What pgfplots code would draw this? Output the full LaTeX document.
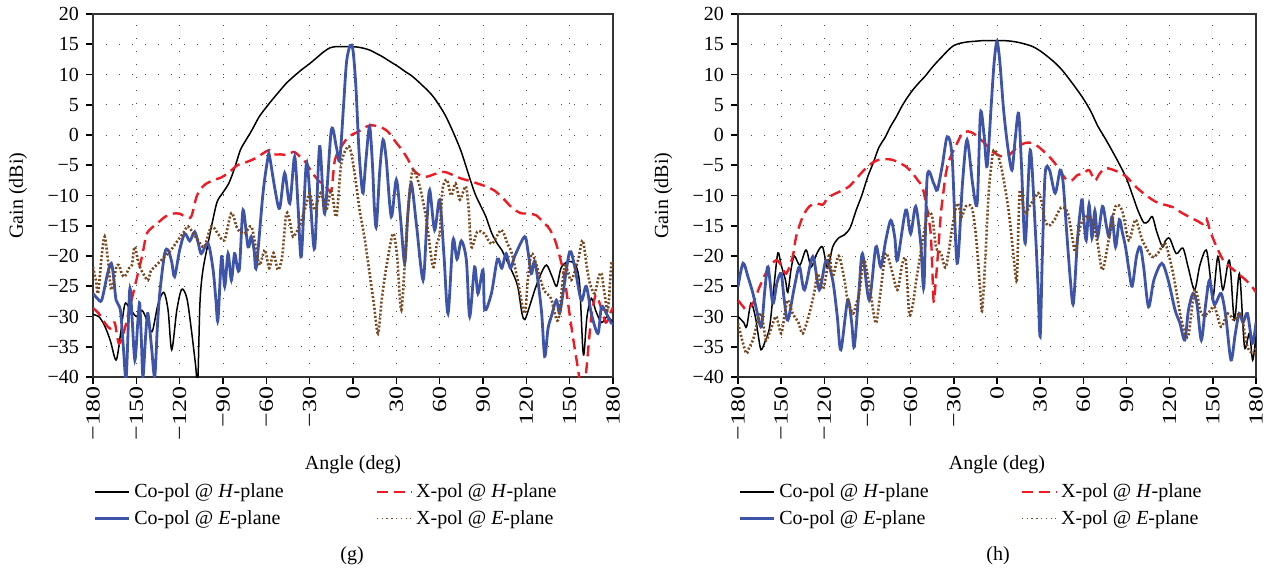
\documentclass[border=0pt]{standalone}
\usepackage{fontspec}
\setmainfont{Liberation Serif}
\usepackage{graphicx}
\usepackage{pgfplots}
\pgfplotsset{compat=1.18}

\definecolor{cblue}{RGB}{62,84,168}
\definecolor{cred}{RGB}{237,28,36}
\definecolor{cbrown}{RGB}{120,72,30}

\newcommand{\xl}[1]{\scalebox{1.3}[1]{#1}}

\pgfplotsset{
  panel/.style={
    scale only axis, height=181.5pt, anchor=south west,
    xmin=-180, xmax=180, ymin=-40, ymax=20,
    xtick={-180,-150,...,180},
    xticklabels={\xl{−180},\xl{−150},\xl{−120},\xl{−90},\xl{−60},\xl{−30},\xl{0},\xl{30},\xl{60},\xl{90},\xl{120},\xl{150},\xl{180}},
    ytick={-40,-35,...,20},
    yticklabels={−40,−35,−30,−25,−20,−15,−10,−5,0,5,10,15,20},
    xtick pos=left, ytick pos=left,
    tick align=outside, major tick length=3.5pt,
    every tick/.style={black, line width=0.8pt},
    grid=major,
    major grid style={black!70, line width=0.5pt, dash pattern=on 0.5pt off 6pt},
    axis line style={black!80, line width=0.6pt},
    tick label style={font=\fontsize{10}{12}\selectfont},
    xticklabel style={rotate=90, anchor=east, inner xsep=1pt, inner ysep=0pt},
    xlabel={Angle (deg)}, ylabel={Gain (dBi)},
    label style={font=\fontsize{10}{12}\selectfont},
    xlabel style={at={(axis description cs:0.5,-0.2424)}, anchor=center},
    ylabel style={at={(axis description cs:-0.144,0.5)}, anchor=center},
    legend columns=2, legend cell align=left,
    legend style={draw=none, fill=none, at={(axis description cs:0,-0.27)}, anchor=north west,
      xshift=-3pt, font=\fontsize{10}{12}\selectfont, row sep=1pt,
      /tikz/every even column/.append style={column sep=44pt}},
    every axis plot/.append style={smooth, tension=0.5},
  },
  cph/.style={black, line width=0.75pt},
  xph/.style={cred, line width=1.2pt, dash pattern=on 5.5pt off 3pt},
  cpe/.style={cblue, line width=1.4pt},
  xpe/.style={cbrown, line width=1.3pt, dash pattern=on 1pt off 1pt,
    legend image post style={line width=0.6pt, dash pattern=on 0.6pt off 1.8pt}},
}

\begin{document}
\begin{tikzpicture}
\useasboundingbox (0,0) rectangle (634pt,-288pt);

% ---------------- (g) ----------------
\begin{axis}[panel, width=260pt, at={(46.5pt,-188.5pt)}]
\addplot[cph] coordinates {
(-180,-29.7)(-176,-30)(-172,-31.5)(-168,-34)(-164,-37.2)(-161,-33)(-158,-28)(-155,-28.5)(-150,-30)
(-146,-29)(-142,-31)(-139,-32.5)(-135,-28)(-131,-26)(-128,-29)(-125.5,-35.5)(-122,-29)(-118.6,-25.5)
(-115,-27)(-112,-32)(-109,-38)(-107.5,-41)(-106,-28)(-104,-22.5)(-100,-17.5)(-97,-14)(-94,-11)
(-90,-9.5)(-86,-8)(-82,-5.5)(-78,-2.5)(-74,-0.8)(-70,0.8)(-65,3)(-60,4.6)(-56,5.8)(-50,7.5)(-46,8.6)
(-40,9.9)(-35,10.9)(-30,11.8)(-25,12.8)(-20,13.8)(-16,14.4)(-12,14.6)(-6,14.6)(0,14.6)(4,14.5)
(8,14.3)(12,14)(16,13.5)(20,13)(24,12.4)(28,11.8)(32,11.2)(36,10.5)(40,9.9)(44,9.1)(48,8.2)(52,7.3)
(56,6.2)(60,4.8)(64,3.2)(68,1.2)(72,-1)(75,-2.8)(78,-5)(82,-8)(85,-10)(89,-12)(92,-13.5)(96,-16.2)
(100,-18)(103,-19)(106,-20.5)(110,-22.5)(114,-25)(117,-29.5)(119,-30.5)(122,-28.5)(126,-25.5)
(130,-23)(134,-21.5)(138,-23.5)(141,-25)(144,-22)(148,-21)(152,-21)(155,-22)(157,-25)(159,-35)
(160,-36)(162,-30)(165,-27)(168,-29)(172,-31)(176,-30)(180,-31)};
\addlegendentry{Co-pol @ \textit{H}-plane}
\addplot[xph] coordinates {
(-180,-28.6)(-176,-29.5)(-172,-31)(-168,-32)(-165,-31)(-162,-34.5)(-158,-32)(-155,-29)(-152,-26)
(-149,-23)(-146,-20)(-143,-16.5)(-140,-15.5)(-135,-14.5)(-130,-13.5)(-125,-13)(-120,-13)(-116,-13.5)
(-112,-13.5)(-108,-10)(-103,-8.3)(-97,-7.5)(-91,-7)(-85,-6)(-80,-5)(-74,-4.5)(-68,-3.9)(-62,-3)
(-58,-2.5)(-55,-3.2)(-50,-3.2)(-46,-3.3)(-41,-2.8)(-37,-3.5)(-34,-4.1)(-28,-6.3)(-24,-7.5)(-19,-8.5)
(-15,-9.1)(-12.5,-4.1)(-8,-1.9)(-3,-0.3)(4,0.6)(8,1.2)(12,1.6)(18,1.4)(24,0.6)(30,-1.3)(34,-2.5)
(38,-4)(42,-5.8)(46,-6.6)(51,-6.9)(56,-6.5)(63,-6.1)(69,-6.6)(75,-7.2)(81,-7.6)(86,-8)(92,-8.5)
(98,-9.2)(104,-10.5)(110,-12)(116,-12.9)(122,-13)(127,-13.3)(132,-14.5)(136,-15.5)(140,-17.5)
(143,-20)(146,-23)(149,-28)(152,-33)(155,-37.5)(157,-40.5)(159,-42)(161,-40)(163,-35)(165,-30)
(168,-26.5)(171,-28)(175,-31)(178,-29.5)(180,-28.5)};
\addlegendentry{X-pol @ \textit{H}-plane}
\addplot[cpe] coordinates {
(-180,-26.2)(-177,-27)(-174,-27.3)(-170,-23)(-167.3,-21.2)(-165.5,-24)(-164,-27.3)(-161,-29)(-159,-35)
(-157,-40)(-154.6,-25.6)(-153,-30)(-151,-37.2)(-149,-31)(-147.7,-27.8)(-146.5,-34)(-145.4,-40)
(-143.5,-33)(-142,-29.5)(-139.5,-35)(-137.3,-40)(-135.5,-32)(-133.8,-26.2)(-130.4,-19.6)(-128,-19)
(-125.5,-21)(-123.5,-23.4)(-120,-19)(-116.5,-16.3)(-113,-17.5)(-109.6,-16)(-107,-18)(-105,-19.6)
(-100.4,-17.9)(-97,-22)(-95,-27)(-93.5,-30.6)(-91,-20.1)(-88.8,-25)(-86.5,-19.6)(-84.2,-24)(-82,-19.6)
(-80,-22)(-78.5,-21.8)(-76.1,-12.4)(-72.7,-18.5)(-70.5,-16.8)(-68.5,-19)(-66.9,-21.8)(-62.3,-9.6)
(-58.8,-3.6)(-57.7,-3.6)(-54,-9)(-50.8,-12.1)(-47.3,-6.3)(-43.8,-11.3)(-40.4,-3.6)(-38,-12)(-35.8,-20.1)
(-32.3,-4.7)(-29.5,-11)(-26.5,-18.7)(-23.1,-1.9)(-19.6,-13)(-15,0.8)(-11.5,-2)(-9.2,-4.1)(-6.5,5)
(-4.5,12)(-2,14.8)(0,14)(2,8)(4,-2)(5.5,-7)(7,-9.6)(9,-4)(11.5,1.4)(13.5,-5)(14.8,-12)(16.2,-15.1)
(18.5,-6)(20.8,-0.8)(23,-4)(26.5,-13.5)(30,-7.4)(33,-14)(35.8,-21.2)(38,-13)(40.4,-8)(44,-15)
(48.5,-24)(51,-15)(53.1,-9.1)(56.5,-15.7)(60,-10.7)(63,-20)(65.8,-29.5)(69.2,-17.4)(72,-20.5)
(75,-17.5)(78.5,-20.7)(80.8,-30)(84.2,-21.8)(86.5,-26.2)(90,-22.3)(91.2,-28.9)(95.8,-26.2)(100,-20.5)
(103,-22)(106,-19.6)(109,-22)(112,-20)(118.8,-16.8)(121,-19)(123.5,-22.9)(126,-21)(130.4,-28.9)
(132.7,-36.6)(135,-32)(137.3,-30)(140.8,-27.3)(143,-29.5)(145.5,-26)(150,-19.3)(153.5,-21.8)
(158,-27.3)(161.5,-25)(165,-29.5)(169.6,-32.8)(172,-28.4)(175.4,-29.5)(178.9,-31.1)(180,-31)};
\addlegendentry{Co-pol @ \textit{E}-plane}
\addplot[xpe] coordinates {
(-180,-21.8)(-178,-24)(-176.5,-26.2)(-174,-20)(-171.9,-16.8)(-169.5,-21)(-167.3,-25.6)(-164,-22)
(-162,-21.5)(-160,-23)(-158,-23.4)(-155,-22)(-153,-21.5)(-151.2,-18.5)(-148,-21.5)(-145,-23)(-142,-24)
(-140,-22.5)(-137.3,-21.8)(-134,-21)(-130.4,-20.1)(-126,-19)(-121.2,-17.4)(-117,-16)(-114.2,-15.1)
(-110,-16.5)(-107.3,-17.4)(-103,-18.5)(-98.1,-15.1)(-93.5,-16.3)(-89,-17.4)(-84.2,-12.9)(-80,-15.5)
(-75,-16.3)(-70.4,-15.1)(-67,-19)(-64.6,-21.5)(-61,-19)(-58,-22)(-55,-19.5)(-52,-22.3)(-49,-20)
(-46.2,-13)(-43.5,-14.5)(-41.5,-16.8)(-37,-15)(-33,-12)(-30,-9.6)(-26.5,-12.4)(-22.5,-9.6)(-18.5,-12.4)
(-15,-9.1)(-11.5,-13.5)(-8.1,-4.7)(-3.5,-1.9)(-1.2,-3)(1.5,-7)(4.6,-12.4)(8,-17)(11.5,-22.9)(14.5,-28)
(17.3,-32.8)(20,-27)(23.1,-21.8)(27.7,-16.3)(30.5,-20)(33.5,-28.9)(36.9,-16.8)(39,-10)(41.5,-5.8)
(46.2,-8.5)(50.8,-14)(55.4,-21.8)(58,-18)(60,-16.3)(62,-9)(65,-7.4)(68,-10)(71,-8)(74,-10.7)(78,-8.5)
(80,-12)(82,-18.5)(86,-16)(91,-16.3)(96,-18)(102.7,-15.7)(107,-18)(110,-19.6)(114,-24)(118.8,-29.5)
(121,-24)(123.5,-19.6)(127,-21.5)(132,-25.5)(137,-27)(142,-30.6)(146.5,-21.8)(151,-24)(155.8,-20.7)
(159,-17.4)(162,-22)(164,-24.5)(167.3,-26.2)(170,-23.5)(172,-22.9)(174,-26)(176.5,-28.9)(178.9,-21.2)
(180,-22)};
\addlegendentry{X-pol @ \textit{E}-plane}
\end{axis}

% ---------------- (h) ----------------
\begin{axis}[panel, width=259pt, at={(369pt,-188.5pt)}]
\addplot[cph] coordinates {
(-180,-30)(-176,-31)(-174,-31.7)(-171,-27.8)(-168,-30)(-166,-33)(-164,-35.5)(-161,-34)(-158,-31.7)
(-155,-25)(-152.3,-19.5)(-150,-21.5)(-147,-24)(-145.4,-26)(-143,-22)(-140.8,-20)(-137,-21.5)
(-132.7,-19)(-129.2,-21.8)(-126,-20)(-124.6,-19.3)(-121.2,-18.5)(-117.7,-22)(-114.2,-18.5)(-110,-17)
(-106,-16.5)(-102,-15.3)(-98,-12.5)(-94,-10)(-90,-7)(-86,-4.6)(-82,-2)(-78,-0.5)(-74,1.4)(-70,3)
(-66,4.8)(-62,6.3)(-58,7.6)(-54,8.7)(-50,9.7)(-46,10.9)(-42,12)(-38,13)(-34,14)(-30,14.8)(-25,15.2)
(-20,15.4)(-15,15.5)(-10,15.6)(-5,15.6)(0,15.6)(5,15.6)(10,15.5)(15,15.3)(20,15)(25,14.6)(30,13.9)
(35,13)(40,12)(45,10.8)(50,9.3)(55,7.7)(60,6)(65,4)(70,1.5)(75,-0.5)(80,-2.6)(85,-4.8)(90,-7.2)
(95,-10.5)(98,-12.5)(102,-14.5)(105,-14.3)(108,-13.5)(111,-16)(115,-18.5)(117,-17.5)(120,-17.1)
(124.6,-19.6)(129.2,-18.7)(133,-22)(137.3,-25.6)(141,-21.5)(145.4,-19)(148,-23)(150,-27.3)
(153.5,-20.1)(157,-25.6)(161.5,-20.7)(165,-30.6)(168.5,-22.9)(172,-35)(175.4,-32.8)(177.7,-37.2)
(180,-33)};
\addlegendentry{Co-pol @ \textit{H}-plane}
\addplot[xph] coordinates {
(-180,-27.3)(-176,-28.5)(-174.2,-28.9)(-169.6,-27.8)(-165,-25.1)(-161,-23)(-158,-21.8)(-153.5,-20.7)
(-150,-21.5)(-146.5,-22.9)(-142,-20.1)(-139.6,-16.8)(-135,-13.5)(-130.4,-11.8)(-125.8,-11.3)
(-121,-11.5)(-118,-10.5)(-114.2,-9.9)(-108,-9.2)(-102.7,-8.5)(-97,-7)(-91.2,-5.5)(-86,-4.5)(-82,-4.1)
(-77,-4)(-72.7,-4.1)(-68,-4.6)(-63.4,-5.2)(-58.8,-6.3)(-55,-7.5)(-52,-8.5)(-50,-10.5)(-48,-13)
(-46,-16.5)(-45,-22)(-44,-27.5)(-42.5,-24)(-41,-19.5)(-39,-13)(-37,-9)(-35.5,-6.3)(-33,-4)(-30,-2.5)
(-27,-1)(-24,0.3)(-20,0.6)(-16,0.2)(-12,-0.6)(-8,-1.5)(-4,-2.6)(0,-3.2)(4,-3.6)(8,-3.4)(12,-2.5)
(16,-1.7)(20,-1.3)(24,-1.3)(28,-1.8)(32,-2.6)(36,-3.5)(40,-4.6)(44,-6)(48,-7.3)(52,-7.5)(56,-6.6)
(60,-6.4)(64,-5.8)(68,-7.5)(71,-6.5)(75,-5.5)(80,-5.7)(85,-6.2)(90,-6.9)(95,-8.2)(100,-9.3)
(105,-10.2)(110,-11)(116,-11.5)(122,-11.9)(128,-12.8)(134,-13.6)(140,-14.3)(143,-14.7)(145.5,-13.8)
(148,-15.8)(151,-17.6)(154,-19.2)(158,-21)(163,-22)(168,-23)(173,-24)(177,-25)(180,-26)};
\addlegendentry{X-pol @ \textit{H}-plane}
\addplot[cpe] coordinates {
(-180,-25.1)(-176.5,-21.2)(-173,-23.5)(-169.6,-26.2)(-167,-29)(-163.8,-31.7)(-161.5,-26)(-159.2,-21.8)
(-155.8,-27.8)(-153,-24.5)(-150,-22.9)(-148,-27)(-145.4,-30.6)(-140.8,-25.1)(-137.3,-21.8)(-133.8,-25.6)
(-128,-20.1)(-123.5,-25.6)(-118.8,-20.7)(-114.2,-24)(-111,-30)(-108.5,-35.5)(-103.8,-27.3)(-101,-31)
(-99.2,-35)(-96,-26)(-93.5,-19.6)(-88.8,-27.3)(-84.2,-18.5)(-80.8,-21.8)(-77.3,-17.4)(-73.8,-14.1)
(-71,-17)(-69.2,-20.7)(-63.4,-12.4)(-60,-16.3)(-56.5,-11.8)(-53,-18)(-50.8,-25.1)(-48.5,-6.9)(-44,-8)
(-41.5,-9.1)(-38,-5)(-34.6,-0.3)(-31.2,-3.6)(-27.7,-21.2)(-24,-8)(-20.8,-0.8)(-17,-8)(-13.8,-11.3)
(-11.5,3.6)(-9,0)(-6.9,-5.2)(-4,5)(-2,12)(0,15.5)(2,12)(4.6,4.1)(7.5,-2)(10.4,-5.8)(12.5,-1)(15,3.6)
(17,-5)(19.6,-17.9)(23.1,-2.5)(26.5,-15.1)(28.5,-25)(30,-33.3)(31.5,-20)(33.5,-6.3)(36.5,-5.8)
(40.4,-9.6)(43.9,-5.8)(46,-8)(48.5,-16.3)(51,-24)(53.1,-27.8)(56,-17)(58.9,-10.7)(60,-13)(62,-17.4)
(64,-11.5)(66,-17)(68,-12.5)(70,-16.8)(73.3,-11.8)(76,-15)(77.9,-16.8)(80,-13.5)(82.4,-18.5)(85,-14)
(87,-16)(89.3,-18.5)(91.5,-22)(93.9,-25)(97,-20)(99.6,-18.5)(102,-22)(105.3,-28.4)(109,-24)
(114.5,-21.2)(119,-24)(123.7,-28.9)(127,-31)(130.5,-33.9)(133,-29)(136.2,-26.2)(139,-28)(142,-33.9)
(145,-28)(147.7,-24)(151,-28)(155.7,-26.2)(159,-30)(162.6,-37.2)(165.5,-33)(168.3,-29.5)(171,-31)
(174,-29.5)(177.5,-34.4)(180,-31)};
\addlegendentry{Co-pol @ \textit{E}-plane}
\addplot[xpe] coordinates {
(-180,-31.1)(-177,-34)(-174.2,-36.1)(-172,-35)(-169.6,-33.9)(-166.5,-31)(-163.8,-29.5)(-162,-32)
(-160.4,-33.9)(-157,-32)(-153.5,-30)(-150,-32.8)(-147.5,-29.5)(-145.4,-27.3)(-142,-29.5)(-138,-31)
(-135,-32.8)(-130.4,-29.5)(-127,-26)(-124.6,-22.9)(-121,-25.5)(-118,-22)(-116.5,-19.6)(-114.2,-23.4)
(-110,-20)(-106,-24)(-103.8,-27.3)(-100,-29.5)(-98,-28)(-95.8,-26.2)(-92.3,-20.7)(-88,-26)(-84.2,-31.1)
(-81,-26)(-77.3,-19.6)(-73,-22.5)(-69.2,-25.6)(-66,-21.5)(-63.4,-20.7)(-61,-29.5)(-58.5,-28)(-56.1,-24)
(-51.6,-17.4)(-48.1,-13)(-45,-13.5)(-42.4,-18.5)(-39,-19.5)(-35.5,-21.8)(-31,-15.1)(-27.5,-11.3)
(-24.5,-13.5)(-21.8,-11.8)(-17.5,-12)(-14.5,-17)(-11.5,-26.2)(-10.3,-28.9)(-8,-20)(-5.8,-9.6)(-3.5,-4)
(-2.3,-2.5)(0,-3)(3.4,-5.8)(8,-12.4)(11.5,-20)(13.7,-24)(14.9,-15.1)(16,-9.1)(19.4,-13)(22.5,-11.8)
(26,-10.5)(28.6,-9.6)(31,-11)(33.2,-14)(36,-15)(40,-14)(44.5,-12)(49.2,-12.9)(53.8,-19)(55,-18.5)
(58,-15)(61.8,-13.5)(66,-14)(70,-18)(73.3,-22.3)(77.9,-17)(82.4,-11.8)(87,-12.5)(91.6,-17.4)(96.2,-14)
(101,-17.4)(107.6,-20.1)(112,-19.5)(116.8,-17.9)(121.4,-21.8)(124,-25)(128.2,-30.6)(132.8,-33.3)
(137.4,-25.6)(142,-29.5)(146.5,-29.5)(151.1,-28.4)(155.7,-31.7)(160.3,-29.5)(164.9,-30.6)(169.5,-29.5)
(174,-35)(178.6,-36.1)(180,-35)};
\addlegendentry{X-pol @ \textit{E}-plane}
\end{axis}

\node[font=\fontsize{10}{12}\selectfont] at (176pt,-278pt) {(g)};
\node[font=\fontsize{10}{12}\selectfont] at (499pt,-278pt) {(h)};
\end{tikzpicture}
\end{document}
